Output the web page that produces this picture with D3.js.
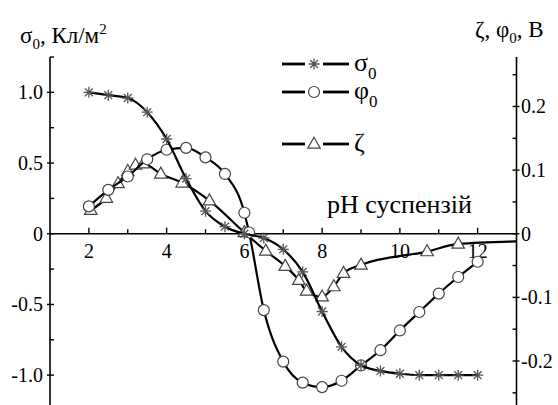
<!DOCTYPE html>
<html>
<head>
<meta charset="utf-8">
<script src="https://cdn.jsdelivr.net/npm/d3@7"></script>
<style>
  body { margin: 0; background: #fff; }
  svg { display: block; }
  text { font-family: "Liberation Serif", "Times New Roman", "DejaVu Serif", serif; }
</style>
</head>
<body>
<div id="chart"></div>
<script>
// pH values and the three measured curves
var sigmaX = [2, 2.5, 3, 3.5, 4, 4.5, 5, 5.5, 6, 6.5, 7, 7.5, 8, 8.5, 9, 9.5, 10, 10.5, 11, 11.5, 12];
var sigmaY = [1.0, 0.98, 0.96, 0.86, 0.67, 0.39, 0.16, 0.05, 0, -0.03, -0.11, -0.27, -0.55, -0.8, -0.93, -0.97, -0.99, -1.0, -1.0, -1.0, -1.0];

var phiX = [2, 2.5, 3, 3.5, 4, 4.5, 5, 5.5, 6, 6.12, 6.5, 7, 7.5, 8, 8.5, 9, 9.5, 10, 10.5, 11, 11.5, 12];
var phiY = [0.043, 0.069, 0.09, 0.117, 0.132, 0.135, 0.12, 0.094, 0.033, 0.002, -0.12, -0.201, -0.234, -0.241, -0.231, -0.207, -0.183, -0.152, -0.123, -0.094, -0.068, -0.044];

var zetaX = [2.05, 2.45, 2.75, 3.0, 3.2, 3.4, 3.85, 4.4, 5.1, 6.0, 6.55, 7.05, 7.4, 7.6, 8.0, 8.3, 8.55, 9.0, 10.7, 11.5, 13];
var zetaY = [0.037, 0.056, 0.079, 0.098, 0.108, 0.11, 0.094, 0.08, 0.052, 0.002, -0.027, -0.051, -0.073, -0.09, -0.099, -0.083, -0.062, -0.049, -0.028, -0.016, -0.012];
var zetaMarked = 20; // last point only continues the line to the axis

var xTicks = [2, 4, 6, 8, 10, 12];
var leftTicks = [1.0, 0.5, 0, -0.5, -1.0];
var leftLabels = ["1.0", "0.5", "0", "-0.5", "-1.0"];
var rightTicks = [0.2, 0.1, 0, -0.1, -0.2];
var rightLabels = ["0.2", "0.1", "0", "-0.1", "-0.2"];

var W = 558, H = 405;
var FONT = "Liberation Serif, Times New Roman, DejaVu Serif, serif";
var svg = d3.select("#chart").append("svg").attr("width", W).attr("height", H)
  .attr("font-family", FONT);

var x = d3.scaleLinear().domain([1, 13]).range([50, 516.5]);
var yL = d3.scaleLinear().domain([-1.25, 1.25]).range([410.5, 57]);
var yR = d3.scaleLinear().domain([-1.25 / 4.5, 1.25 / 4.5]).range([410.5, 57]);

// axes lines
svg.append("line").attr("x1", x(1)).attr("x2", x(1)).attr("y1", 57).attr("y2", H + 5)
  .attr("stroke", "#000").attr("stroke-width", 1.6);
svg.append("line").attr("x1", x(13)).attr("x2", x(13)).attr("y1", 57).attr("y2", H + 5)
  .attr("stroke", "#000").attr("stroke-width", 1.6);
svg.append("line").attr("x1", x(1)).attr("x2", x(13)).attr("y1", yL(0)).attr("y2", yL(0))
  .attr("stroke", "#000").attr("stroke-width", 1.6);

// x ticks (point up) and labels
d3.range(2, 13, 1).forEach(function(v){
  var major = v % 2 === 0;
  svg.append("line").attr("x1", x(v)).attr("x2", x(v))
    .attr("y1", yL(0)).attr("y2", yL(0) - (major ? 6 : 4.5))
    .attr("stroke", "#000").attr("stroke-width", 1.4);
});
svg.selectAll(".xl").data(xTicks).enter().append("text")
  .attr("x", function(d){ return x(d); }).attr("y", 258)
  .attr("text-anchor", "middle").attr("font-size", 20).text(function(d){ return d; });

// left ticks
d3.range(-1.25, 1.26, 0.25).forEach(function(v){
  var major = Math.abs(v * 2 - Math.round(v * 2)) < 1e-6;
  svg.append("line").attr("x1", x(1) - (major ? 3 : 0)).attr("x2", x(1) + 4)
    .attr("y1", yL(v)).attr("y2", yL(v)).attr("stroke", "#000").attr("stroke-width", 1.4);
});
svg.selectAll(".yl").data(leftTicks).enter().append("text")
  .attr("x", 43).attr("y", function(d){ return yL(d) + 7; })
  .attr("text-anchor", "end").attr("font-size", 20)
  .text(function(d, i){ return leftLabels[i]; });

// right ticks
d3.range(-0.25, 0.26, 0.05).forEach(function(v){
  var major = Math.abs(v * 10 - Math.round(v * 10)) < 1e-6;
  svg.append("line").attr("x1", x(13) - 4).attr("x2", x(13) + (major ? 3 : 0))
    .attr("y1", yR(v)).attr("y2", yR(v)).attr("stroke", "#000").attr("stroke-width", 1.4);
});
svg.selectAll(".yr").data(rightTicks).enter().append("text")
  .attr("x", 521).attr("y", function(d){ return yR(d) + 7; })
  .attr("font-size", 20)
  .text(function(d, i){ return rightLabels[i]; });

// axis titles
var tL = svg.append("text").attr("x", 20).attr("y", 43).attr("font-size", 23);
tL.append("tspan").text("σ");
tL.append("tspan").attr("font-size", 15).attr("dy", 6).text("0");
tL.append("tspan").attr("dy", -6).text(", Кл/м");
tL.append("tspan").attr("font-size", 15).attr("dy", -9).text("2");

var tR = svg.append("text").attr("x", 475).attr("y", 37).attr("font-size", 23);
tR.append("tspan").text("ζ, φ");
tR.append("tspan").attr("font-size", 15).attr("dy", 6).text("0");
tR.append("tspan").attr("dy", -6).text(", В");

svg.append("text").attr("x", 327).attr("y", 213).attr("font-size", 26).text("pH суспензій");

// markers
function star(g, cx, cy){
  var r = 5.5, s = r * 0.72;
  var p = "M" + (cx - r) + "," + cy + "H" + (cx + r) +
          "M" + cx + "," + (cy - r) + "V" + (cy + r) +
          "M" + (cx - s) + "," + (cy - s) + "L" + (cx + s) + "," + (cy + s) +
          "M" + (cx - s) + "," + (cy + s) + "L" + (cx + s) + "," + (cy - s);
  g.append("path").attr("d", p).attr("stroke", "#555").attr("stroke-width", 1.3).attr("fill", "none");
}
function circ(g, cx, cy){
  g.append("circle").attr("cx", cx).attr("cy", cy).attr("r", 5.5)
    .attr("fill", "#fff").attr("stroke", "#444").attr("stroke-width", 1.2);
}
function tri(g, cx, cy){
  var h = 11, w = 12.5;
  g.append("path").attr("d", "M" + cx + "," + (cy - h * 0.62) + "L" + (cx + w / 2) + "," + (cy + h * 0.38) +
      "L" + (cx - w / 2) + "," + (cy + h * 0.38) + "Z")
    .attr("fill", "#fff").attr("stroke", "#444").attr("stroke-width", 1.2);
}

var line = d3.line().curve(d3.curveMonotoneX);

function series(xs, ys, yScale, marker, nMarked){
  var g = svg.append("g");
  var pts = xs.map(function(v, i){ return [x(v), yScale(ys[i])]; });
  g.append("path").attr("d", line(pts)).attr("fill", "none")
    .attr("stroke", "#000").attr("stroke-width", 2.2);
  pts.slice(0, nMarked).forEach(function(p){ marker(g, p[0], p[1]); });
}

series(zetaX, zetaY, yR, tri, zetaMarked);
series(phiX, phiY, yR, circ, phiX.length);
series(sigmaX, sigmaY, yL, star, sigmaX.length);

// legend
var legend = [
  { name: "σ", y: 64, mark: star },
  { name: "φ", y: 92, mark: circ },
  { name: "ζ", y: 144, mark: tri }
];
legend.forEach(function(d){
  svg.append("line").attr("x1", 282).attr("x2", 305).attr("y1", d.y).attr("y2", d.y)
    .attr("stroke", "#000").attr("stroke-width", 2.8);
  svg.append("line").attr("x1", 323).attr("x2", 349).attr("y1", d.y).attr("y2", d.y)
    .attr("stroke", "#000").attr("stroke-width", 2.8);
  d.mark(svg, 314, d.y);
  var t = svg.append("text").attr("x", 354).attr("y", d.y + 7).attr("font-size", 26);
  t.append("tspan").text(d.name);
  if (d.name !== "ζ") t.append("tspan").attr("font-size", 17).attr("dy", 8).text("0");
});
</script>
</body>
</html>
